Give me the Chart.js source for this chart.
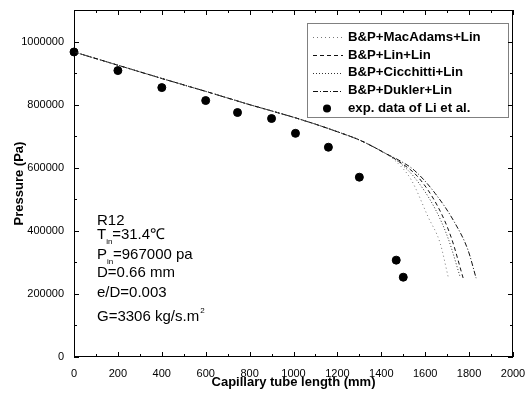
<!DOCTYPE html>
<html lang="en">
<head>
  <meta charset="UTF-8" />
  <title>Capillary tube pressure</title>
  <script src="https://cdn.jsdelivr.net/npm/chart.js"></script>
  <style>
    body { margin: 0; background: #fff; }
    #wrap { width: 528px; height: 403px; }
  </style>
</head>
<body>
  <div id="wrap"><canvas id="chart" width="528" height="403"></canvas></div>

<script>
  // common part of all four model curves (they overlap up to ~1400 mm)
  const commonLength = [0, 200, 400, 600, 800, 1000, 1100, 1200, 1300, 1370, 1420];
  const commonPressure = [967000, 925000, 883000, 842000, 800000, 760000, 738000, 714000, 688000, 664000, 645000];

  const macLength = [1470, 1536, 1614, 1668, 1705];
  const macPressure = [618000, 562000, 443000, 361000, 253000];

  const linLength = [1480, 1568, 1659, 1718, 1773];
  const linPressure = [620000, 570000, 475000, 380000, 250000];

  const cicLength = [1480, 1555, 1645, 1705, 1760];
  const cicPressure = [618000, 566000, 470000, 375000, 252000];

  const dukLength = [1480, 1550, 1645, 1736, 1795, 1832];
  const dukPressure = [624000, 592000, 519000, 424000, 339000, 250000];

  const expLength = [0, 200, 400, 600, 745, 900, 1009, 1159, 1300, 1468, 1500];
  const expPressure = [967000, 908000, 854000, 813000, 775000, 756000, 709000, 665000, 570000, 307000, 253000];

  const seriesNames = ["B&P+MacAdams+Lin", "B&P+Lin+Lin", "B&P+Cicchitti+Lin", "B&P+Dukler+Lin", "exp. data of Li et al."];

  const xTicks = [0, 200, 400, 600, 800, 1000, 1200, 1400, 1600, 1800, 2000];
  const yTicks = [0, 200000, 400000, 600000, 800000, 1000000];

  function toPoints(xs, ys) {
    return xs.map((x, i) => ({ x: x, y: ys[i] }));
  }
  function curve(xs, ys) {
    return toPoints(commonLength.concat(xs), commonPressure.concat(ys));
  }

  const lineBase = { showLine: true, pointRadius: 0, borderWidth: 1, fill: false, cubicInterpolationMode: "monotone" };
  const fontFamily = "'Liberation Sans', Arial, sans-serif";

  // inward tick marks on all four sides
  const boxTicks = {
    id: "boxTicks",
    afterDraw(chart) {
      const { ctx, chartArea: a, scales } = chart;
      ctx.save();
      ctx.strokeStyle = "#000";
      ctx.lineWidth = 1;
      ctx.strokeRect(a.left + 0.5, a.top + 0.5, a.right - a.left - 1, a.bottom - a.top - 1);
      ctx.beginPath();
      for (let v = 0; v <= 2000; v += 100) {
        const px = Math.round(scales.x.getPixelForValue(v)) + 0.5;
        const len = v % 200 === 0 ? 5 : 3;
        ctx.moveTo(px, a.bottom); ctx.lineTo(px, a.bottom - len);
        ctx.moveTo(px, a.top); ctx.lineTo(px, a.top + len);
      }
      for (let v = 0; v <= 1100000; v += 100000) {
        const py = Math.round(scales.y.getPixelForValue(v)) + 0.5;
        const len = v % 200000 === 0 ? 5 : 3;
        ctx.moveTo(a.left, py); ctx.lineTo(a.left + len, py);
        ctx.moveTo(a.right, py); ctx.lineTo(a.right - len, py);
      }
      ctx.stroke();
      ctx.restore();
    }
  };

  // legend box in the upper right and the condition text
  const notes = {
    id: "notes",
    afterDatasetsDraw(chart) {
      const ctx = chart.ctx;
      ctx.save();
      const bx = 307, by = 23, bw = 201, bh = 94;
      ctx.fillStyle = "#fff";
      ctx.fillRect(bx, by, bw, bh);
      ctx.strokeStyle = "#000";
      ctx.lineWidth = 1;
      ctx.setLineDash([1, 1]);
      ctx.strokeRect(bx + 0.5, by + 0.5, bw, bh);
      ctx.setLineDash([]);
      ctx.font = "bold 13.2px " + fontFamily;
      ctx.textBaseline = "middle";
      chart.data.datasets.forEach((ds, i) => {
        const y = 37 + i * 17.9;
        if (ds.showLine) {
          ctx.strokeStyle = ds.borderColor;
          ctx.lineWidth = 1;
          ctx.setLineDash(ds.borderDash || []);
          ctx.beginPath();
          ctx.moveTo(313, Math.round(y) + 0.5);
          ctx.lineTo(343, Math.round(y) + 0.5);
          ctx.stroke();
          ctx.setLineDash([]);
        } else {
          ctx.fillStyle = "#000";
          ctx.beginPath();
          ctx.arc(327, y, 4, 0, Math.PI * 2);
          ctx.fill();
        }
        ctx.fillStyle = "#000";
        ctx.fillText(ds.label, 348, y);
      });

      ctx.textBaseline = "alphabetic";
      const x0 = 97;
      const big = "15px " + fontFamily;
      const sub = "8px " + fontFamily;
      ctx.font = big;
      ctx.fillText("R12", x0, 225);
      // T_in
      ctx.fillText("T", x0, 239);
      let w = ctx.measureText("T").width;
      ctx.font = sub; ctx.fillText("in", x0 + w, 244);
      ctx.font = big; ctx.fillText("=31.4\u2103", x0 + w + 6, 239);
      // P_in
      ctx.fillText("P", x0, 259);
      w = ctx.measureText("P").width;
      ctx.font = sub; ctx.fillText("in", x0 + w, 264);
      ctx.font = big; ctx.fillText("=967000 pa", x0 + w + 6, 259);
      ctx.fillText("D=0.66 mm", x0, 277);
      ctx.fillText("e/D=0.003", x0, 297);
      ctx.fillText("G=3306 kg/s.m", x0, 321);
      w = ctx.measureText("G=3306 kg/s.m").width;
      ctx.font = sub; ctx.fillText("2", x0 + w + 1, 313);
      ctx.restore();
    }
  };

  new Chart(document.getElementById("chart"), {
    type: "scatter",
    data: {
      datasets: [
        Object.assign({ label: seriesNames[0], data: curve(macLength, macPressure), borderColor: "#777", borderDash: [1, 3] }, lineBase),
        Object.assign({ label: seriesNames[1], data: curve(linLength, linPressure), borderColor: "#111", borderDash: [4, 3] }, lineBase),
        Object.assign({ label: seriesNames[2], data: curve(cicLength, cicPressure), borderColor: "#333", borderDash: [1, 2] }, lineBase),
        Object.assign({ label: seriesNames[3], data: curve(dukLength, dukPressure), borderColor: "#111", borderDash: [5, 2, 1, 2] }, lineBase),
        {
          label: seriesNames[4],
          data: toPoints(expLength, expPressure),
          showLine: false,
          pointRadius: 4,
          pointBackgroundColor: "#000",
          pointBorderColor: "#000",
          clip: false
        }
      ]
    },
    options: {
      responsive: false,
      animation: false,
      layout: { padding: { top: 10, right: 15, left: 0, bottom: 0 } },
      plugins: {
        legend: { display: false },
        tooltip: { enabled: false }
      },
      scales: {
        x: {
          type: "linear",
          min: 0,
          max: 2000,
          afterFit: s => { s.height = 46; s.paddingLeft = 0; s.paddingRight = 0; },
          afterBuildTicks: s => { s.ticks = xTicks.map(v => ({ value: v })); },
          grid: { display: false, drawTicks: false },
          border: { display: false },
          ticks: {
            padding: 10,
            maxRotation: 0,
            color: "#000",
            font: { family: fontFamily, size: 11 },
            callback: v => String(v)
          },
          title: {
            display: true,
            text: "Capillary tube length (mm)",
            color: "#000",
            font: { family: fontFamily, size: 13, weight: "bold" },
            padding: { top: 0, bottom: 13 }
          }
        },
        y: {
          type: "linear",
          min: 0,
          max: 1100000,
          afterFit: s => { s.width = 74; s.paddingTop = 0; s.paddingBottom = 0; },
          afterBuildTicks: s => { s.ticks = yTicks.map(v => ({ value: v })); },
          grid: { display: false, drawTicks: false },
          border: { display: false },
          ticks: {
            padding: 10,
            color: "#000",
            font: { family: fontFamily, size: 11 },
            callback: v => String(v)
          },
          title: {
            display: true,
            text: "Pressure (Pa)",
            color: "#000",
            font: { family: fontFamily, size: 13, weight: "bold" },
            padding: { top: 12, bottom: 0 }
          }
        }
      }
    },
    plugins: [boxTicks, notes]
  });
</script>
</body>
</html>
